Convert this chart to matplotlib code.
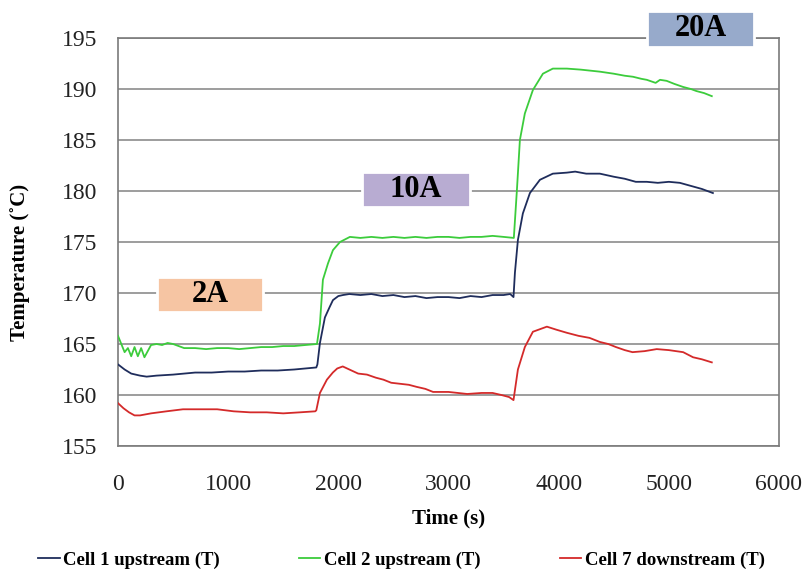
import matplotlib
matplotlib.use('Agg')
import matplotlib.pyplot as plt
from matplotlib.patches import Rectangle

plt.rcParams['font.family'] = ['Liberation Serif', 'DejaVu Serif']

# Cell 1 upstream (T)
t_cell1 = [0, 60, 120, 200, 260, 350, 500, 700, 850, 1000, 1150, 1300, 1450, 1600, 1700, 1800,
           1810, 1833, 1878, 1920, 1951, 2000, 2042, 2100, 2200, 2300, 2400, 2500, 2600, 2700,
           2800, 2900, 3000, 3100, 3200, 3300, 3400, 3500, 3560, 3590, 3603, 3630, 3675,
           3739, 3830, 3947, 4074, 4150, 4250, 4374, 4500, 4600, 4700, 4800, 4900, 5000,
           5100, 5200, 5300, 5400]
v_cell1 = [163.0, 162.5, 162.1, 161.9, 161.8, 161.9, 162.0, 162.2, 162.2, 162.3, 162.3, 162.4,
           162.4, 162.5, 162.6, 162.7, 163.0, 165.1, 167.6, 168.6, 169.3, 169.7, 169.8, 169.9,
           169.8, 169.9, 169.7, 169.8, 169.6, 169.7, 169.5, 169.6, 169.6, 169.5, 169.7, 169.6,
           169.8, 169.8, 169.9, 169.6, 172.0, 175.2, 177.8, 179.8, 181.1, 181.7, 181.8, 181.9,
           181.7, 181.7, 181.4, 181.2, 180.9, 180.9, 180.8, 180.9, 180.8, 180.5, 180.2, 179.8]

# Cell 2 upstream (T)
t_cell2 = [0, 30, 60, 90, 120, 150, 180, 210, 240, 270, 300, 350, 400, 450, 500, 550, 600,
           700, 800, 900, 1000, 1100, 1200, 1300, 1400, 1500, 1600, 1700, 1806, 1833, 1860,
           1906, 1951, 2015, 2105, 2200, 2300, 2400, 2500, 2600, 2700, 2800, 2900, 3000, 3100,
           3200, 3300, 3400, 3500, 3593, 3621, 3648, 3693, 3766, 3857, 3947, 4074, 4200,
           4374, 4500, 4600, 4675, 4750, 4800, 4880, 4920, 4980, 5050, 5130, 5200, 5250,
           5320, 5390]
v_cell2 = [165.8, 165.0, 164.2, 164.6, 163.8, 164.7, 163.8, 164.6, 163.7, 164.3, 164.9, 165.0,
           164.9, 165.1, 165.0, 164.8, 164.6, 164.6, 164.5, 164.6, 164.6, 164.5, 164.6, 164.7,
           164.7, 164.8, 164.8, 164.9, 165.0, 167.0, 171.3, 172.9, 174.2, 175.0, 175.5, 175.4,
           175.5, 175.4, 175.5, 175.4, 175.5, 175.4, 175.5, 175.5, 175.4, 175.5, 175.5, 175.6,
           175.5, 175.4, 180.1, 185.0, 187.6, 189.9, 191.5, 192.0, 192.0, 191.9, 191.7, 191.5,
           191.3, 191.2, 191.0, 190.9, 190.6, 190.9, 190.8, 190.5, 190.2, 190.0, 189.8, 189.6,
           189.3]

# Cell 7 downstream (T)
t_cell7 = [0, 50, 100, 150, 200, 300, 440, 590, 750, 900, 1050, 1200, 1350, 1500, 1650, 1790,
           1800, 1833, 1896, 1950, 1990, 2040, 2100, 2180, 2260, 2340, 2410, 2480, 2560,
           2640, 2710, 2790, 2860, 3000, 3170, 3300, 3400, 3480, 3550, 3590, 3630, 3693,
           3766, 3893, 3980, 4074, 4180, 4280, 4374, 4450, 4520, 4600, 4670, 4780, 4890,
           5000, 5130, 5220, 5300, 5390]
v_cell7 = [159.2, 158.7, 158.3, 158.0, 158.0, 158.2, 158.4, 158.6, 158.6, 158.6, 158.4, 158.3,
           158.3, 158.2, 158.3, 158.4, 158.5, 160.2, 161.5, 162.2, 162.6, 162.8, 162.5, 162.1,
           162.0, 161.7, 161.5, 161.2, 161.1, 161.0, 160.8, 160.6, 160.3, 160.3, 160.1, 160.2,
           160.2, 160.0, 159.8, 159.5, 162.5, 164.7, 166.2, 166.7, 166.4, 166.1, 165.8, 165.6,
           165.2, 165.0, 164.7, 164.4, 164.2, 164.3, 164.5, 164.4, 164.2, 163.7, 163.5, 163.2]

series_labels = ['Cell 1 upstream (T)', 'Cell 2 upstream (T)', 'Cell 7 downstream (T)']
series_colors = ['#1f2d5c', '#3ccc3c', '#d42a2a']

# current step boxes: label, colour, figure-pixel box (x0, y0, x1, y1 from top-left)
step_labels = ['2A', '10A', '20A']
step_colors = ['#f6c5a3', '#b8acd2', '#97aacb']
step_boxes = [(157, 277, 263, 312), (362, 172, 470, 207), (647, 11, 754, 47)]

W, H = 803, 571
fig = plt.figure(figsize=(W / 100, H / 100), dpi=100)
ax = fig.add_axes([118 / W, 1 - 446 / H, (779 - 118) / W, (446 - 38) / H])

for t, v, lab, col in zip([t_cell1, t_cell2, t_cell7], [v_cell1, v_cell2, v_cell7],
                          series_labels, series_colors):
    ax.plot(t, v, color=col, linewidth=1.3, label=lab, zorder=3)

ax.set_xlim(0, 6000)
ax.set_ylim(155, 195)
ax.set_xticks(range(0, 6001, 1000))
ax.set_yticks(range(155, 196, 5))
ax.yaxis.grid(True, color='#8c8c8c', linewidth=1.2)
ax.set_axisbelow(True)
ax.tick_params(length=0, labelsize=17, colors='#222222')
ax.tick_params(axis='y', pad=15)
ax.tick_params(axis='x', pad=20)
for s in ax.spines.values():
    s.set_color('#7a7a7a')
    s.set_linewidth(1.2)

ax.set_xlabel('Time (s)', fontsize=15, fontweight='bold', labelpad=10)
fig.text(20 / W, 1 - 262 / H, 'Temperature (˚C)', rotation=90, fontsize=15,
         fontweight='bold', ha='center', va='center')

for lab, col, (x0, y0, x1, y1) in zip(step_labels, step_colors, step_boxes):
    r = Rectangle((x0 / W, 1 - y1 / H), (x1 - x0) / W, (y1 - y0) / H,
                  transform=fig.transFigure, facecolor=col, edgecolor='white',
                  linewidth=2, zorder=5)
    fig.patches.append(r)
    fig.text((x0 + x1) / 2 / W, 1 - (y0 + y1) / 2 / H, lab, fontsize=22,
             fontweight='bold', ha='center', va='center', zorder=6)

fig.legend(loc='center', bbox_to_anchor=(0.5, 1 - 560 / H), ncol=3, frameon=False,
           prop={'size': 13.5, 'weight': 'bold'}, handlelength=1.15, handletextpad=0.2,
           columnspacing=4.2)

fig.savefig('out.png', dpi=100, facecolor='white')
